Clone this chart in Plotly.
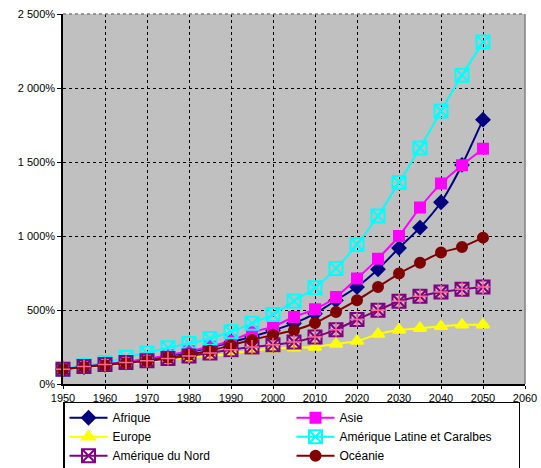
import plotly.graph_objects as go

years = [1950, 1955, 1960, 1965, 1970, 1975, 1980, 1985, 1990, 1995, 2000,
         2005, 2010, 2015, 2020, 2025, 2030, 2035, 2040, 2045, 2050]

afrique = [100, 115, 130, 145, 165, 190, 215, 245, 282, 320, 362,
           410, 475, 565, 655, 775, 919, 1057, 1228, 1480, 1786]
asie = [100, 115, 130, 150, 170, 195, 222, 252, 292, 350, 388,
        453, 505, 588, 712, 847, 1000, 1192, 1354, 1478, 1590]
europe = [100, 110, 122, 135, 150, 165, 180, 190, 205, 225, 238,
          245, 250, 270, 290, 337, 365, 377, 390, 400, 401]
amlat = [100, 125, 145, 180, 210, 245, 273, 308, 353, 410, 470,
         561, 650, 781, 943, 1135, 1361, 1595, 1845, 2086, 2310]
amnord = [100, 118, 132, 145, 157, 172, 190, 210, 232, 250, 265,
          284, 318, 367, 435, 498, 559, 593, 622, 640, 655]
oceanie = [100, 115, 127, 142, 155, 177, 200, 225, 262, 298, 332,
           363, 412, 487, 566, 655, 746, 820, 888, 926, 989]

y_tickvals = [0, 500, 1000, 1500, 2000, 2500]
y_ticktext = ["0%", "500%", "1 000%", "1 500%", "2 000%", "2 500%"]
x_tickvals = [1950, 1960, 1970, 1980, 1990, 2000, 2010, 2020, 2030, 2040, 2050, 2060]

FONT = "Liberation Sans, Arial, sans-serif"

fig = go.Figure()

def add(name, vals, color, symbol, size, show=True):
    fig.add_trace(go.Scatter(
        x=years, y=vals, name=name, mode="lines+markers",
        line=dict(color=color, width=2, shape="spline", smoothing=0.6),
        marker=dict(symbol=symbol, size=size, color=color,
                    line=dict(color=color, width=2)),
        cliponaxis=False, showlegend=show,
    ))

add("Afrique", afrique, "#000080", "diamond", 10)
add("Asie", asie, "#FF00FF", "square", 10)
add("Europe", europe, "#FFFF00", "triangle-up", 11)
add("Amérique Latine et Caralbes", amlat, "#00FFFF", "square-x-open", 13)
add("Amérique du Nord", amnord, "#800080", "square-x-open", 13)
add("Océanie", oceanie, "#800000", "circle", 10)

# extra vertical stroke for the North America asterisk-box marker
fig.add_trace(go.Scatter(
    x=years, y=amnord, mode="markers", showlegend=False, hoverinfo="skip",
    marker=dict(symbol="cross-thin-open", size=10,
                line=dict(color="#800080", width=1.5)),
    cliponaxis=False,
))

axis_common = dict(
    showgrid=True, gridcolor="black", griddash="dot", gridwidth=1,
    showline=True, linecolor="black", linewidth=1.5,
    tickcolor="black",
    tickfont=dict(family=FONT, size=11, color="black"),
    zeroline=False,
)

fig.update_xaxes(range=[1950, 2060], tickvals=x_tickvals,
                 ticks="outside", ticklen=3, **axis_common)
fig.update_yaxes(range=[0, 2500], tickvals=y_tickvals, ticktext=y_ticktext,
                 ticks="outside", ticklen=4, **axis_common)

# grey top/right frame of the plot area
fig.add_shape(type="line", xref="paper", yref="paper", x0=0, x1=1, y0=1, y1=1,
              line=dict(color="#808080", width=1.5, dash="dot"))
fig.add_shape(type="line", xref="paper", yref="paper", x0=1, x1=1, y0=0, y1=1,
              line=dict(color="#808080", width=1.5))

fig.update_layout(
    width=541, height=468,
    margin=dict(l=63, r=16, t=14, b=84, autoexpand=False),
    plot_bgcolor="#C0C0C0", paper_bgcolor="white",
    font=dict(family=FONT, size=11, color="black"),
    showlegend=True,
    legend=dict(
        orientation="h", x=0, y=-0.048, xanchor="left", yanchor="top",
        entrywidth=174, entrywidthmode="pixels",
        bordercolor="black", borderwidth=1.5, bgcolor="rgba(255,255,255,0)",
        font=dict(family=FONT, size=12, color="black"),
        tracegroupgap=0, itemwidth=38,
    ),
)

fig.write_html(
    "out.html",
    config={"displayModeBar": False},
    post_script="document.body.style.margin='0';document.body.style.padding='0';",
)
